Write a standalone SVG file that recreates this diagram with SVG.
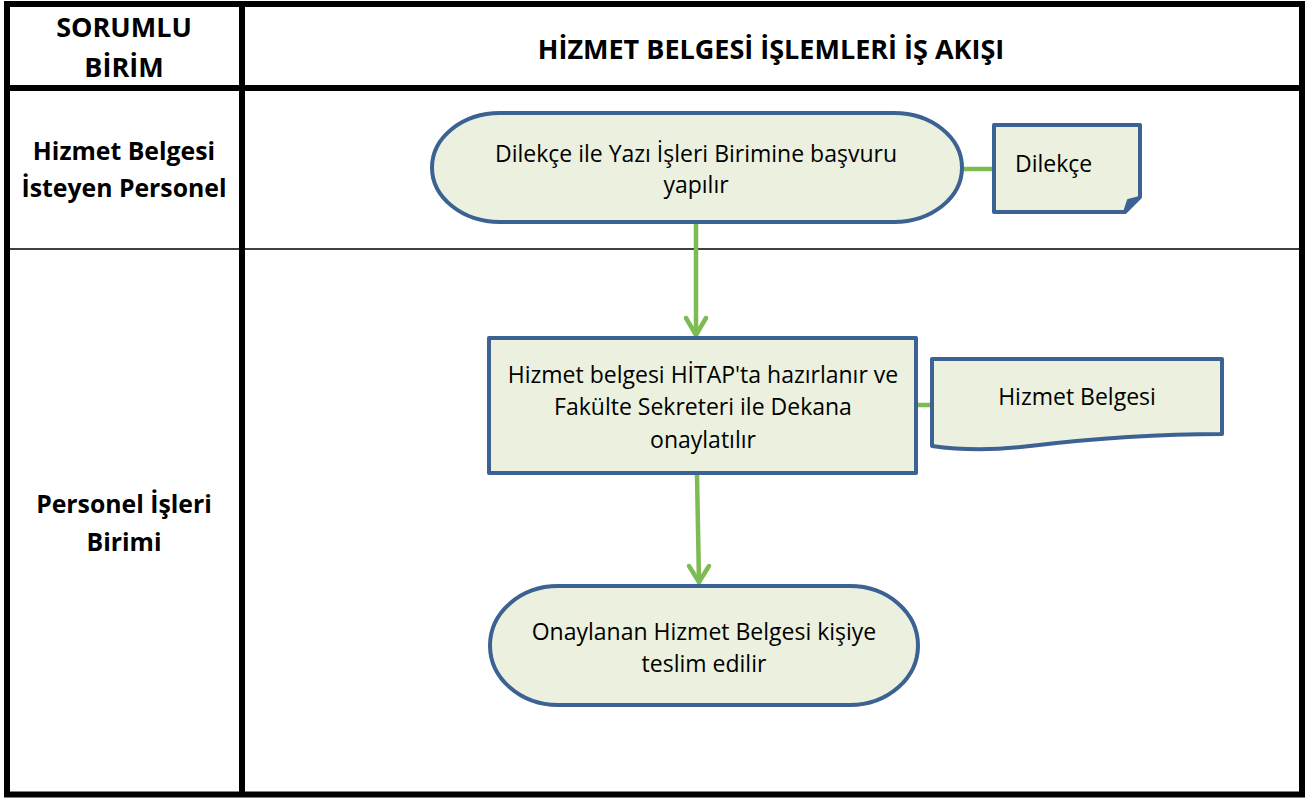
<svg xmlns="http://www.w3.org/2000/svg" width="1313" height="800" viewBox="0 0 1313 800">
<style>
.hd{font-family:"Open Sans","Liberation Sans",sans-serif;font-weight:bold;font-size:24.8px;fill:#000;text-anchor:middle}
.hb{font-size:27px}
.tx{font-family:"Open Sans","Liberation Sans",sans-serif;font-size:23px;fill:#000;text-anchor:middle}
.shape{fill:#EBF1DE;stroke:#3C6193;stroke-width:4;stroke-linejoin:round}
.con{stroke:#7DBB53;stroke-width:4.5;fill:none;stroke-linecap:round;stroke-linejoin:round}
.grid{stroke:#000;fill:none}
</style>
<rect width="1313" height="800" fill="#fff"/>
<g id="table">
<rect x="7" y="4" width="1295" height="790.5" class="grid" stroke-width="6"/>
<line x1="242" y1="4" x2="242" y2="794" class="grid" stroke-width="6"/>
<line x1="7" y1="88" x2="1302" y2="88" class="grid" stroke-width="6"/>
<line x1="7" y1="249" x2="1302" y2="249" class="grid" stroke-width="1.5"/>
<text class="hd hb" x="124" y="37">SORUMLU</text>
<text class="hd hb" x="124" y="77">BİRİM</text>
<text class="hd hb" x="771" y="59">HİZMET BELGESİ İŞLEMLERİ İŞ AKIŞI</text>
<text class="hd" x="124" y="160">Hizmet Belgesi</text>
<text class="hd" x="124" y="197">İsteyen Personel</text>
<text class="hd" x="124" y="513">Personel İşleri</text>
<text class="hd" x="124" y="551">Birimi</text>
</g>
<g id="connectors">
<line class="con" x1="962" y1="169" x2="994" y2="169"/>
<line class="con" x1="916" y1="405" x2="932" y2="405"/>
<line class="con" x1="696" y1="224" x2="696" y2="335"/>
<polyline class="con" points="686,318 696,335 706,318"/>
<line class="con" x1="697" y1="475" x2="699" y2="582"/>
<polyline class="con" points="689,566 699,582 709,566"/>
</g>
<g id="n1">
<rect class="shape" x="432" y="113" width="530" height="109" rx="68" ry="54.5"/>
<text class="tx" x="696" y="162">Dilekçe ile Yazı İşleri Birimine başvuru</text>
<text class="tx" x="696" y="193">yapılır</text>
</g>
<g id="n2">
<path class="shape" d="M994,125 H1140 V197 L1125,212 H994 Z"/>
<path d="M1124,212 L1128,200 L1140,197 Z" fill="#3C6193" stroke="#3C6193" stroke-width="2" stroke-linejoin="round"/>
<text class="tx" x="1015" y="172" style="text-anchor:start">Dilekçe</text>
</g>
<g id="n3">
<rect class="shape" x="489" y="338" width="427" height="135"/>
<text class="tx" x="703" y="383">Hizmet belgesi HİTAP'ta hazırlanır ve</text>
<text class="tx" x="703" y="415">Fakülte Sekreteri ile Dekana</text>
<text class="tx" x="703" y="448">onaylatılır</text>
</g>
<g id="n4">
<path class="shape" d="M932,359 H1222 V434 C1150,434 1080,440 1030,446 C990,451 960,450 932,446 Z"/>
<text class="tx" x="1077" y="405">Hizmet Belgesi</text>
</g>
<g id="n5">
<rect class="shape" x="490" y="586" width="428" height="119" rx="68" ry="59.5"/>
<text class="tx" x="704" y="640">Onaylanan Hizmet Belgesi kişiye</text>
<text class="tx" x="704" y="672">teslim edilir</text>
</g>
</svg>
